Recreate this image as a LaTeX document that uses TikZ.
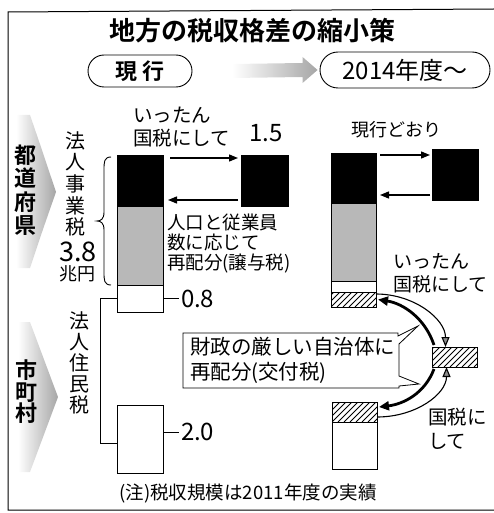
\documentclass[tikz,border=0pt]{standalone}
\usepackage{fontspec}
\setmainfont{Noto Sans CJK JP}[BoldFont={Noto Sans CJK JP Bold}]
\usetikzlibrary{arrows.meta,shapes.misc,calc}
\AtBeginDocument{\lineskiplimit=-100pt}
\newcommand{\hatchbox}[4]{%
  \begin{scope}
    \clip (#1,#2) rectangle (#3,#4);
    \foreach \k in {-30,-24,...,54} {
      \draw[line width=0.9pt] ({#1+\k},#4) -- ++(40,-40);
    }
  \end{scope}}
\begin{document}
\begin{tikzpicture}[x=1pt,y=-1pt,
  bx/.style={draw, line width=0.8pt, inner sep=0pt, outer sep=0pt, anchor=north west},
  blk/.style={bx, fill=black},
  stp/.style={bx, fill=black!28},
  wht/.style={bx, fill=white},
  hbx/.style={bx},
  txt/.style={inner sep=0pt, outer sep=0pt},
  pill/.style={draw, line width=0.9pt, rounded rectangle, inner sep=0pt},
  arr/.style={line width=1.3pt, -{Triangle[length=9pt,width=7pt]}},
  bigarc/.style={line width=2.8pt, -{Triangle[length=10pt,width=9pt]}},
  thinarc/.style={line width=1.1pt, -{Triangle[length=10pt,width=8pt,fill=black!45]}},
  tick/.style={line width=0.8pt},
  shadow/.style={left color=white, right color=black!35, draw=none},
]
\useasboundingbox (0,0) rectangle (494,513);
% frame
\draw[line width=1pt] (494,9) -- (8,12) -- (8,510) -- (494,510);
% title
\node[txt, font=\bfseries\fontsize{26}{26}\selectfont] (title) at (252,31) {地方の税収格差の縮小策};
% pills
\node[pill, minimum width=104, minimum height=32, font=\bfseries\fontsize{22}{22}\selectfont] (now) at (140,71) {現\hspace{6pt}行};
\node[pill, minimum width=170, minimum height=36, font=\fontsize{24}{24}\selectfont] (new) at (405,70) {2014年度～};
\path (now.east) ++(40,0) coordinate (ga0);
\path (new.west) ++(-2,0) coordinate (ga1);
\shade[shadow] ($(ga0)+(0,-7)$) -- ($(ga1)+(-15,-7)$) -- ($(ga1)+(-15,-13)$) -- (ga1) -- ($(ga1)+(-15,13)$) -- ($(ga1)+(-15,7)$) -- ($(ga0)+(0,7)$) -- cycle;
% shadows behind region names
\shade[shadow] (30,115) .. controls (42,150) .. (56,192) .. controls (42,232) .. (30,268) -- (16,268) -- (16,115) -- cycle;
\shade[shadow] (30,322) .. controls (44,360) .. (58,397) .. controls (44,434) .. (30,472) -- (18,472) -- (18,322) -- cycle;
% region names
\node[txt, font=\bfseries\fontsize{22}{23.5}\selectfont, align=center] (pref) at (25,190) {都\\道\\府\\県};
\node[txt, font=\bfseries\fontsize{22}{21.5}\selectfont, align=center] (muni) at (27,392) {市\\町\\村};
% tax names
\node[txt, font=\fontsize{20}{21.7}\selectfont, align=center] (jigyo) at (75,184) {法\\人\\事\\業\\税};
\node[txt, font=\fontsize{27}{27}\selectfont] (v38) at (78,252) {3.8};
\node[txt, font=\fontsize{18}{18}\selectfont] (cho) at (77,274) {兆円};
\node[txt, font=\fontsize{20}{21}\selectfont, align=center] (jumin) at (79,363) {法\\人\\住\\民\\税};
% left bars
\node[blk, minimum width=46, minimum height=51] (lb) at (117,155) {};
\node[stp, minimum width=46, minimum height=79] (ls) at (117,206) {};
\node[wht, minimum width=46, minimum height=27] (lw) at (117,285) {};
\node[wht, minimum width=46, minimum height=68] (lw2) at (117,405) {};
\node[blk, minimum width=47, minimum height=51] (rb) at (241,155) {};
% brace
\draw[line width=0.9pt] (111,157) .. controls (104,157) and (104,162) .. (104,170) -- (104,212) .. controls (104,219) and (101,221) .. (97,221) .. controls (101,221) and (104,223) .. (104,230) -- (104,272) .. controls (104,280) and (104,285) .. (111,285);
% bracket
\draw[line width=0.9pt] (lw.west) -- ++(-17,0) |- ([yshift=-4pt]lw2.west);
% arrows left
\draw[arr] ([xshift=7pt,yshift=-3pt]lb.north east) -- ([xshift=-3pt,yshift=-3pt]rb.north west);
\draw[arr] ([xshift=-3pt,yshift=6pt]rb.south west) -- ([xshift=5pt,yshift=6pt]lb.south east);
% left labels
\node[txt, font=\fontsize{19.5}{23}\selectfont, align=left, anchor=west] (t1) at (133,127) {いったん\\国税にして};
\node[txt, font=\fontsize{24}{24}\selectfont] (v15) at (266,133) {1.5};
\node[txt, font=\fontsize{18.5}{20}\selectfont, align=left, anchor=west] (t2) at (167,244) {人口と従業員\\数に応じて\\再配分(譲与税)};
\node[txt, font=\fontsize{24}{24}\selectfont, anchor=west] (v08) at (181,299) {0.8};
\draw[tick] (lw.east) -- ([xshift=-2pt]lw.east -| v08.west);
\node[txt, font=\fontsize{24}{24}\selectfont, anchor=west] (v20) at (181,432) {2.0};
\draw[tick] (lw2.east |- v20.west) -- ([xshift=-2pt]v20.west);
% right bars
\node[txt, font=\fontsize{18}{18}\selectfont] (same) at (396,130) {現行どおり};
\node[blk, minimum width=45, minimum height=50] (rb1) at (331,153) {};
\node[stp, minimum width=45, minimum height=78] (rs1) at (331,203) {};
\node[wht, minimum width=45, minimum height=11] (rw1) at (331,281) {};
\hatchbox{331}{292}{376}{307}
\node[hbx, minimum width=45, minimum height=15] (rh1) at (331,292) {};
\node[blk, minimum width=46, minimum height=51] (rb2) at (432,149) {};
\draw[arr] ([xshift=4pt,yshift=-2pt]rb1.north east) -- ([xshift=-2pt,yshift=-6pt]rb2.north west);
\draw[arr] ([xshift=-2pt,yshift=5pt]rb2.south west) -- ([xshift=4pt,yshift=8pt]rb1.south east);
\node[txt, font=\fontsize{19}{23}\selectfont, align=left, anchor=west] (t3) at (393,273.5) {いったん\\国税にして};
% middle hatched
\hatchbox{432}{347}{477}{367}
\node[hbx, minimum width=45, minimum height=20] (mh) at (432,347) {};
% lower right
\hatchbox{332}{402}{377}{422}
\node[hbx, minimum width=45, minimum height=20] (rh2) at (332,402) {};
\node[wht, minimum width=45, minimum height=47] (rw2) at (332,422) {};
% callout
\draw[line width=0.8pt, fill=white] (183,333) -- (398,333) -- (398,336) -- (418,326) -- (399,344) -- (399,376) -- (419,384) -- (399,386) -- (399,388) -- (183,388) -- cycle;
\node[txt, font=\fontsize{20.5}{25}\selectfont, align=left, anchor=west] (call) at (190,360.5) {財政の厳しい自治体に\\再配分(交付税)};
% curved arrows
\draw[thinarc] ([yshift=-2pt]rh1.north east) .. controls +(38,0) and +(0,-28) .. ([xshift=-9pt]mh.north);
\draw[bigarc] ([xshift=2pt,yshift=2pt]mh.north west) .. controls +(-9,-27) and +(25,4) .. ([xshift=2pt]rh1.east);
\draw[bigarc] ([xshift=2pt,yshift=-2pt]mh.south west) .. controls +(-9,24) and +(25,-3) .. ([xshift=2pt,yshift=5pt]rh2.east);
\draw[thinarc] ([yshift=5pt]rh2.south east) .. controls +(39,0) and +(0,27) .. ([xshift=-8pt]mh.south);
\node[txt, font=\fontsize{19.5}{24}\selectfont, align=left, anchor=west] (t4) at (428,429) {国税に\\して};
% footer
\node[txt, font=\fontsize{18.5}{18.5}\selectfont] (note) at (248,493) {(注)税収規模は2011年度の実績};
\end{tikzpicture}
\end{document}
